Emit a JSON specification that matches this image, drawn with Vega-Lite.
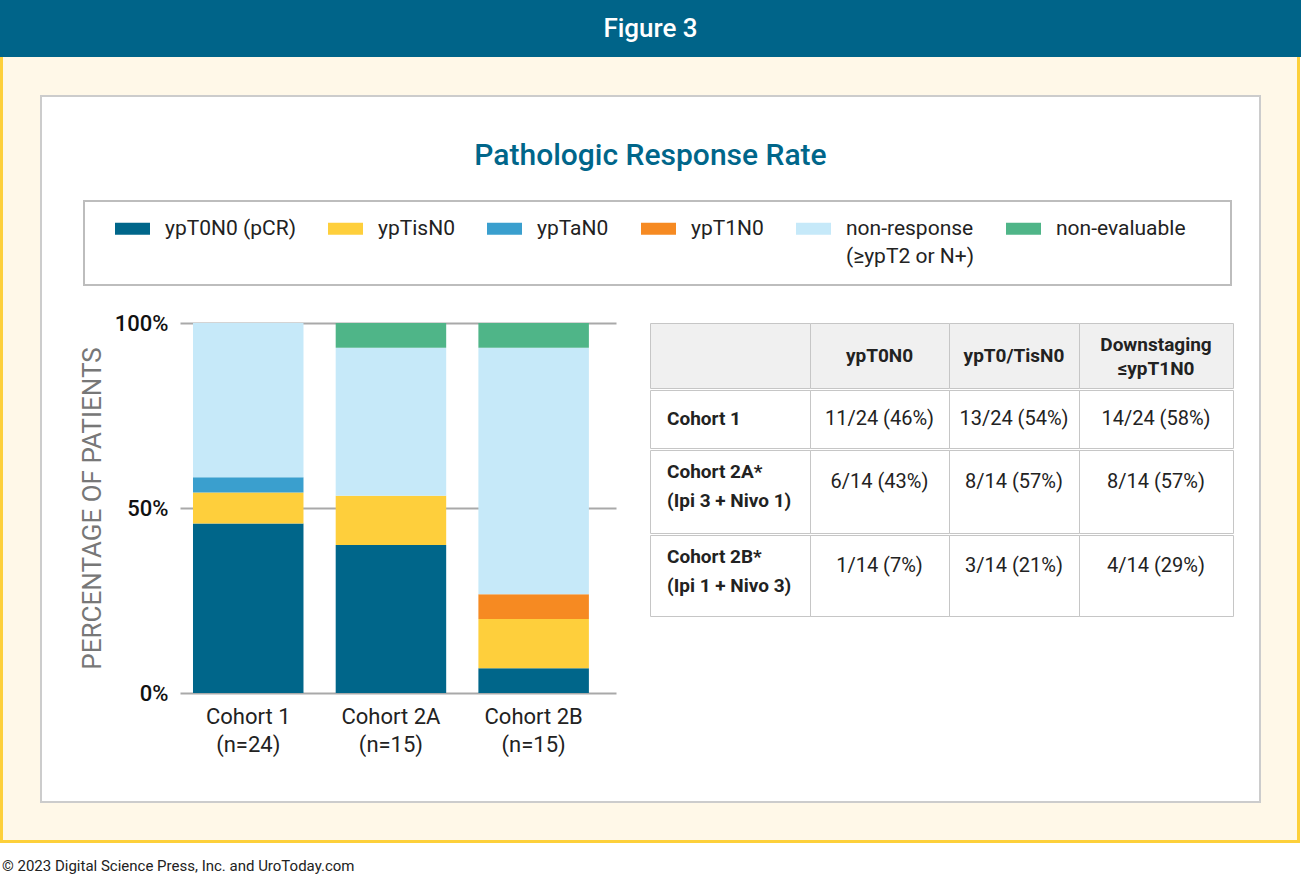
{
  "$schema": "https://vega.github.io/schema/vega-lite/v6.json",
  "background": "#ffffff",
  "padding": 0,
  "spacing": 0,
  "bounds": "full",
  "config": {"font": "Roboto", "view": {"stroke": null}, "concat": {"spacing": 0}},
  "datasets": {
    "response": [
      {"cohort": "Cohort 1 (n=24)", "category": "ypT0N0 (pCR)", "k": 1, "pct": 45.83},
      {"cohort": "Cohort 1 (n=24)", "category": "ypTisN0", "k": 2, "pct": 8.33},
      {"cohort": "Cohort 1 (n=24)", "category": "ypTaN0", "k": 3, "pct": 4.17},
      {"cohort": "Cohort 1 (n=24)", "category": "non-response (≥ypT2 or N+)", "k": 5, "pct": 41.67},
      {"cohort": "Cohort 2A (n=15)", "category": "ypT0N0 (pCR)", "k": 1, "pct": 40},
      {"cohort": "Cohort 2A (n=15)", "category": "ypTisN0", "k": 2, "pct": 13.33},
      {"cohort": "Cohort 2A (n=15)", "category": "non-response (≥ypT2 or N+)", "k": 5, "pct": 40},
      {"cohort": "Cohort 2A (n=15)", "category": "non-evaluable", "k": 6, "pct": 6.67},
      {"cohort": "Cohort 2B (n=15)", "category": "ypT0N0 (pCR)", "k": 1, "pct": 6.67},
      {"cohort": "Cohort 2B (n=15)", "category": "ypTisN0", "k": 2, "pct": 13.33},
      {"cohort": "Cohort 2B (n=15)", "category": "ypT1N0", "k": 4, "pct": 6.67},
      {"cohort": "Cohort 2B (n=15)", "category": "non-response (≥ypT2 or N+)", "k": 5, "pct": 66.66},
      {"cohort": "Cohort 2B (n=15)", "category": "non-evaluable", "k": 6, "pct": 6.67}
    ]
  },
  "vconcat": [
    {"width": 1301, "height": 57, "view": {"fill": "#006489"}, "data": {"values": [{"t": "Figure 3"}]},
     "mark": {"type": "text", "fontSize": 26, "fontWeight": 500, "color": "#ffffff", "baseline": "middle"},
     "encoding": {"text": {"field": "t"}}},
    {"hconcat": [
      {"width": 3, "height": 38, "view": {"fill": "#fdd03b"}, "data": {"values": []}, "mark": "rect"},
      {"width": 1294, "height": 38, "view": {"fill": "#fff8e8"}, "data": {"values": []}, "mark": "rect"},
      {"width": 3, "height": 38, "view": {"fill": "#fdd03b"}, "data": {"values": []}, "mark": "rect"}
    ], "spacing": 0, "bounds": "flush"},
    {"hconcat": [
      {"width": 3, "height": 2, "view": {"fill": "#fdd03b"}, "data": {"values": []}, "mark": "rect"},
      {"width": 37, "height": 2, "view": {"fill": "#fff8e8"}, "data": {"values": []}, "mark": "rect"},
      {"width": 1221, "height": 2, "view": {"fill": "#cccccc"}, "data": {"values": []}, "mark": "rect"},
      {"width": 36, "height": 2, "view": {"fill": "#fff8e8"}, "data": {"values": []}, "mark": "rect"},
      {"width": 3, "height": 2, "view": {"fill": "#fdd03b"}, "data": {"values": []}, "mark": "rect"}
    ], "spacing": 0, "bounds": "flush"},
    {"hconcat": [
      {"width": 3, "height": 33, "view": {"fill": "#fdd03b"}, "data": {"values": []}, "mark": "rect"},
      {"width": 37, "height": 33, "view": {"fill": "#fff8e8"}, "data": {"values": []}, "mark": "rect"},
      {"width": 2, "height": 33, "view": {"fill": "#cccccc"}, "data": {"values": []}, "mark": "rect"},
      {"width": 1217, "height": 33, "data": {"values": []}, "mark": "rect"},
      {"width": 2, "height": 33, "view": {"fill": "#cccccc"}, "data": {"values": []}, "mark": "rect"},
      {"width": 36, "height": 33, "view": {"fill": "#fff8e8"}, "data": {"values": []}, "mark": "rect"},
      {"width": 3, "height": 33, "view": {"fill": "#fdd03b"}, "data": {"values": []}, "mark": "rect"}
    ], "spacing": 0, "bounds": "flush"},
    {"hconcat": [
      {"width": 3, "height": 70, "view": {"fill": "#fdd03b"}, "data": {"values": []}, "mark": "rect"},
      {"width": 37, "height": 70, "view": {"fill": "#fff8e8"}, "data": {"values": []}, "mark": "rect"},
      {"width": 2, "height": 70, "view": {"fill": "#cccccc"}, "data": {"values": []}, "mark": "rect"},
      {"width": 1217, "height": 70, "data": {"values": [{"t": "Pathologic Response Rate"}]},
       "mark": {"type": "text", "fontSize": 30, "fontWeight": 500, "color": "#00668a", "baseline": "alphabetic"},
       "encoding": {"text": {"field": "t"}}},
      {"width": 2, "height": 70, "view": {"fill": "#cccccc"}, "data": {"values": []}, "mark": "rect"},
      {"width": 36, "height": 70, "view": {"fill": "#fff8e8"}, "data": {"values": []}, "mark": "rect"},
      {"width": 3, "height": 70, "view": {"fill": "#fdd03b"}, "data": {"values": []}, "mark": "rect"}
    ], "spacing": 0, "bounds": "flush"},
    {"hconcat": [
      {"width": 3, "height": 2, "view": {"fill": "#fdd03b"}, "data": {"values": []}, "mark": "rect"},
      {"width": 37, "height": 2, "view": {"fill": "#fff8e8"}, "data": {"values": []}, "mark": "rect"},
      {"width": 2, "height": 2, "view": {"fill": "#cccccc"}, "data": {"values": []}, "mark": "rect"},
      {"width": 41, "height": 2, "data": {"values": []}, "mark": "rect"},
      {"width": 1149, "height": 2, "view": {"fill": "#bdbdbd"}, "data": {"values": []}, "mark": "rect"},
      {"width": 27, "height": 2, "data": {"values": []}, "mark": "rect"},
      {"width": 2, "height": 2, "view": {"fill": "#cccccc"}, "data": {"values": []}, "mark": "rect"},
      {"width": 36, "height": 2, "view": {"fill": "#fff8e8"}, "data": {"values": []}, "mark": "rect"},
      {"width": 3, "height": 2, "view": {"fill": "#fdd03b"}, "data": {"values": []}, "mark": "rect"}
    ], "spacing": 0, "bounds": "flush"},
    {"hconcat": [
      {"width": 3, "height": 82, "view": {"fill": "#fdd03b"}, "data": {"values": []}, "mark": "rect"},
      {"width": 37, "height": 82, "view": {"fill": "#fff8e8"}, "data": {"values": []}, "mark": "rect"},
      {"width": 2, "height": 82, "view": {"fill": "#cccccc"}, "data": {"values": []}, "mark": "rect"},
      {"width": 41, "height": 82, "data": {"values": []}, "mark": "rect"},
      {"width": 2, "height": 82, "view": {"fill": "#bdbdbd"}, "data": {"values": []}, "mark": "rect"},
      {"width": 1145, "height": 82, "data": {"values": []}, "mark": "rect"},
      {"width": 2, "height": 82, "view": {"fill": "#bdbdbd"}, "data": {"values": []}, "mark": "rect"},
      {"width": 27, "height": 82, "data": {"values": []}, "mark": "rect"},
      {"width": 2, "height": 82, "view": {"fill": "#cccccc"}, "data": {"values": []}, "mark": "rect"},
      {"width": 36, "height": 82, "view": {"fill": "#fff8e8"}, "data": {"values": []}, "mark": "rect"},
      {"width": 3, "height": 82, "view": {"fill": "#fdd03b"}, "data": {"values": []}, "mark": "rect"}
    ], "spacing": 0, "bounds": "flush"},
    {"hconcat": [
      {"width": 3, "height": 2, "view": {"fill": "#fdd03b"}, "data": {"values": []}, "mark": "rect"},
      {"width": 37, "height": 2, "view": {"fill": "#fff8e8"}, "data": {"values": []}, "mark": "rect"},
      {"width": 2, "height": 2, "view": {"fill": "#cccccc"}, "data": {"values": []}, "mark": "rect"},
      {"width": 41, "height": 2, "data": {"values": []}, "mark": "rect"},
      {"width": 1149, "height": 2, "view": {"fill": "#bdbdbd"}, "data": {"values": []}, "mark": "rect"},
      {"width": 27, "height": 2, "data": {"values": []}, "mark": "rect"},
      {"width": 2, "height": 2, "view": {"fill": "#cccccc"}, "data": {"values": []}, "mark": "rect"},
      {"width": 36, "height": 2, "view": {"fill": "#fff8e8"}, "data": {"values": []}, "mark": "rect"},
      {"width": 3, "height": 2, "view": {"fill": "#fdd03b"}, "data": {"values": []}, "mark": "rect"}
    ], "spacing": 0, "bounds": "flush"},
    {"hconcat": [
      {"width": 3, "height": 515, "view": {"fill": "#fdd03b"}, "data": {"values": []}, "mark": "rect"},
      {"width": 37, "height": 515, "view": {"fill": "#fff8e8"}, "data": {"values": []}, "mark": "rect"},
      {"width": 2, "height": 515, "view": {"fill": "#cccccc"}, "data": {"values": []}, "mark": "rect"},
      {"width": 37, "height": 515, "data": {"values": []}, "mark": "rect"},
      {"vconcat": [
        {"width": 436, "height": 26, "data": {"values": []}, "mark": "rect"},
        {"width": 436, "height": 370,
         "data": {"name": "response"},
         "mark": {"type": "bar"},
         "encoding": {
           "x": {"field": "cohort", "type": "nominal", "sort": ["Cohort 1 (n=24)", "Cohort 2A (n=15)", "Cohort 2B (n=15)"],
                 "scale": {"paddingInner": 0.2257, "paddingOuter": 0.1405, "align": 0.324},
                 "axis": {"title": null, "labelAngle": 0, "domain": false, "ticks": false, "labelFontSize": 22,
                          "labelColor": "#222222", "labelPadding": 13, "labelLineHeight": 28,
                          "labelExpr": "split(replace(datum.label, ' (', '|('), '|')"}},
           "y": {"field": "pct", "type": "quantitative", "stack": "zero",
                 "scale": {"domain": [0, 100], "nice": false},
                 "axis": {"values": [0, 50, 100], "labelExpr": "datum.value + '%'",
                          "title": "PERCENTAGE OF PATIENTS", "titleFontSize": 26, "titleFontWeight": "normal",
                          "titleColor": "#777777", "titlePadding": 9,
                          "labelFontSize": 22, "labelFontWeight": 500, "labelColor": "#111111", "labelPadding": 12,
                          "domain": false, "ticks": false, "grid": true, "gridColor": "#a9a9a9", "gridWidth": 2}},
           "color": {"field": "category", "type": "nominal",
                     "scale": {"domain": ["ypT0N0 (pCR)", "ypTisN0", "ypTaN0", "ypT1N0", "non-response (≥ypT2 or N+)", "non-evaluable"],
                               "range": ["#00668a", "#fecf3c", "#3a9fce", "#f68a22", "#c6e9f9", "#4fb588"]},
                     "legend": {"orient": "none", "legendX": 115, "legendY": 211, "direction": "horizontal", "title": null,
                                "padding": 0, "symbolType": "M-1,-0.343H1V0.343H-1Z", "symbolSize": 1225,
                                "symbolStrokeWidth": 0, "symbolOpacity": 1, "labelFontSize": 21, "labelColor": "#222222",
                                "labelOffset": 15, "columnPadding": 32, "labelLimit": 400,
                                "labelExpr": "datum.label == 'non-response (≥ypT2 or N+)' ? ['non-response', '(≥ypT2 or N+)'] : [datum.label, '']",
                                "encode": {"labels": {"update": {"lineHeight": {"value": 28}}}}}},
           "order": {"field": "k", "type": "quantitative"}
         }}
      ], "spacing": 0},
      {"width": 33, "height": 515, "data": {"values": []}, "mark": "rect"},
      {"vconcat": [
        {"width": 583, "height": 36, "data": {"values": []}, "mark": "rect"},
        {"hconcat": [
          {"width": 160, "height": 65, "view": {"fill": "#f0f0f0", "stroke": "#c6c6c6", "strokeWidth": 1}, "data": {"values": []}, "mark": "text"},
          {"width": 139, "height": 65, "view": {"fill": "#f0f0f0", "stroke": "#c6c6c6", "strokeWidth": 1},
           "data": {"values": [{"t": "ypT0N0"}]},
           "mark": {"type": "text", "fontSize": 19, "fontWeight": "bold", "color": "#222222"},
           "encoding": {"text": {"field": "t"}}},
          {"width": 130, "height": 65, "view": {"fill": "#f0f0f0", "stroke": "#c6c6c6", "strokeWidth": 1},
           "data": {"values": [{"t": "ypT0/TisN0"}]},
           "mark": {"type": "text", "fontSize": 19, "fontWeight": "bold", "color": "#222222"},
           "encoding": {"text": {"field": "t"}}},
          {"width": 154, "height": 65, "view": {"fill": "#f0f0f0", "stroke": "#c6c6c6", "strokeWidth": 1},
           "data": {"values": [{"t": "Downstaging\n≤ypT1N0"}]},
           "mark": {"type": "text", "fontSize": 19, "fontWeight": "bold", "color": "#222222", "lineBreak": "\n", "lineHeight": 24, "dy": -11},
           "encoding": {"text": {"field": "t"}}}
        ], "spacing": 0, "bounds": "flush"},
        {"hconcat": [
          {"width": 160, "height": 58, "view": {"stroke": "#c6c6c6", "strokeWidth": 1},
           "data": {"values": [{"t": "Cohort 1"}]},
           "mark": {"type": "text", "fontSize": 19, "fontWeight": "bold", "color": "#222222", "align": "left", "dx": 17},
           "encoding": {"text": {"field": "t"}, "x": {"datum": 0, "type": "quantitative", "scale": {"domain": [0, 1]}, "axis": null}}},
          {"width": 139, "height": 58, "view": {"stroke": "#c6c6c6", "strokeWidth": 1},
           "data": {"values": [{"t": "11/24 (46%)"}]},
           "mark": {"type": "text", "fontSize": 20, "color": "#222222"},
           "encoding": {"text": {"field": "t"}}},
          {"width": 130, "height": 58, "view": {"stroke": "#c6c6c6", "strokeWidth": 1},
           "data": {"values": [{"t": "13/24 (54%)"}]},
           "mark": {"type": "text", "fontSize": 20, "color": "#222222"},
           "encoding": {"text": {"field": "t"}}},
          {"width": 154, "height": 58, "view": {"stroke": "#c6c6c6", "strokeWidth": 1},
           "data": {"values": [{"t": "14/24 (58%)"}]},
           "mark": {"type": "text", "fontSize": 20, "color": "#222222"},
           "encoding": {"text": {"field": "t"}}}
        ], "spacing": 0, "bounds": "flush"},
        {"hconcat": [
          {"width": 160, "height": 83, "view": {"stroke": "#c6c6c6", "strokeWidth": 1},
           "data": {"values": [{"t": "Cohort 2A*\n(Ipi 3 + Nivo 1)"}]},
           "mark": {"type": "text", "fontSize": 19, "fontWeight": "bold", "color": "#222222", "align": "left", "dx": 17, "dy": -20, "lineBreak": "\n", "lineHeight": 29},
           "encoding": {"text": {"field": "t"}, "x": {"datum": 0, "type": "quantitative", "scale": {"domain": [0, 1]}, "axis": null}}},
          {"width": 139, "height": 83, "view": {"stroke": "#c6c6c6", "strokeWidth": 1},
           "data": {"values": [{"t": "6/14 (43%)"}]},
           "mark": {"type": "text", "fontSize": 20, "color": "#222222", "dy": -10},
           "encoding": {"text": {"field": "t"}}},
          {"width": 130, "height": 83, "view": {"stroke": "#c6c6c6", "strokeWidth": 1},
           "data": {"values": [{"t": "8/14 (57%)"}]},
           "mark": {"type": "text", "fontSize": 20, "color": "#222222", "dy": -10},
           "encoding": {"text": {"field": "t"}}},
          {"width": 154, "height": 83, "view": {"stroke": "#c6c6c6", "strokeWidth": 1},
           "data": {"values": [{"t": "8/14 (57%)"}]},
           "mark": {"type": "text", "fontSize": 20, "color": "#222222", "dy": -10},
           "encoding": {"text": {"field": "t"}}}
        ], "spacing": 0, "bounds": "flush"},
        {"hconcat": [
          {"width": 160, "height": 81, "view": {"stroke": "#c6c6c6", "strokeWidth": 1},
           "data": {"values": [{"t": "Cohort 2B*\n(Ipi 1 + Nivo 3)"}]},
           "mark": {"type": "text", "fontSize": 19, "fontWeight": "bold", "color": "#222222", "align": "left", "dx": 17, "dy": -19, "lineBreak": "\n", "lineHeight": 29},
           "encoding": {"text": {"field": "t"}, "x": {"datum": 0, "type": "quantitative", "scale": {"domain": [0, 1]}, "axis": null}}},
          {"width": 139, "height": 81, "view": {"stroke": "#c6c6c6", "strokeWidth": 1},
           "data": {"values": [{"t": "1/14 (7%)"}]},
           "mark": {"type": "text", "fontSize": 20, "color": "#222222", "dy": -10},
           "encoding": {"text": {"field": "t"}}},
          {"width": 130, "height": 81, "view": {"stroke": "#c6c6c6", "strokeWidth": 1},
           "data": {"values": [{"t": "3/14 (21%)"}]},
           "mark": {"type": "text", "fontSize": 20, "color": "#222222", "dy": -10},
           "encoding": {"text": {"field": "t"}}},
          {"width": 154, "height": 81, "view": {"stroke": "#c6c6c6", "strokeWidth": 1},
           "data": {"values": [{"t": "4/14 (29%)"}]},
           "mark": {"type": "text", "fontSize": 20, "color": "#222222", "dy": -10},
           "encoding": {"text": {"field": "t"}}}
        ], "spacing": 0, "bounds": "flush"}
      ], "spacing": 0},
      {"width": 25, "height": 515, "data": {"values": []}, "mark": "rect"},
      {"width": 2, "height": 515, "view": {"fill": "#cccccc"}, "data": {"values": []}, "mark": "rect"},
      {"width": 36, "height": 515, "view": {"fill": "#fff8e8"}, "data": {"values": []}, "mark": "rect"},
      {"width": 3, "height": 515, "view": {"fill": "#fdd03b"}, "data": {"values": []}, "mark": "rect"}
    ], "spacing": 0, "bounds": "full"},
    {"hconcat": [
      {"width": 3, "height": 2, "view": {"fill": "#fdd03b"}, "data": {"values": []}, "mark": "rect"},
      {"width": 37, "height": 2, "view": {"fill": "#fff8e8"}, "data": {"values": []}, "mark": "rect"},
      {"width": 1221, "height": 2, "view": {"fill": "#cccccc"}, "data": {"values": []}, "mark": "rect"},
      {"width": 36, "height": 2, "view": {"fill": "#fff8e8"}, "data": {"values": []}, "mark": "rect"},
      {"width": 3, "height": 2, "view": {"fill": "#fdd03b"}, "data": {"values": []}, "mark": "rect"}
    ], "spacing": 0, "bounds": "flush"},
    {"hconcat": [
      {"width": 3, "height": 37, "view": {"fill": "#fdd03b"}, "data": {"values": []}, "mark": "rect"},
      {"width": 1294, "height": 37, "view": {"fill": "#fff8e8"}, "data": {"values": []}, "mark": "rect"},
      {"width": 3, "height": 37, "view": {"fill": "#fdd03b"}, "data": {"values": []}, "mark": "rect"}
    ], "spacing": 0, "bounds": "flush"},
    {"width": 1300, "height": 3, "view": {"fill": "#fdd03b"}, "data": {"values": []}, "mark": "rect"},
    {"width": 4, "height": 32, "data": {"values": [{"t": "© 2023 Digital Science Press, Inc. and UroToday.com"}]},
     "mark": {"type": "text", "align": "left", "baseline": "top", "fontSize": 15, "color": "#222222"},
     "encoding": {"text": {"field": "t"}}}
  ]
}
